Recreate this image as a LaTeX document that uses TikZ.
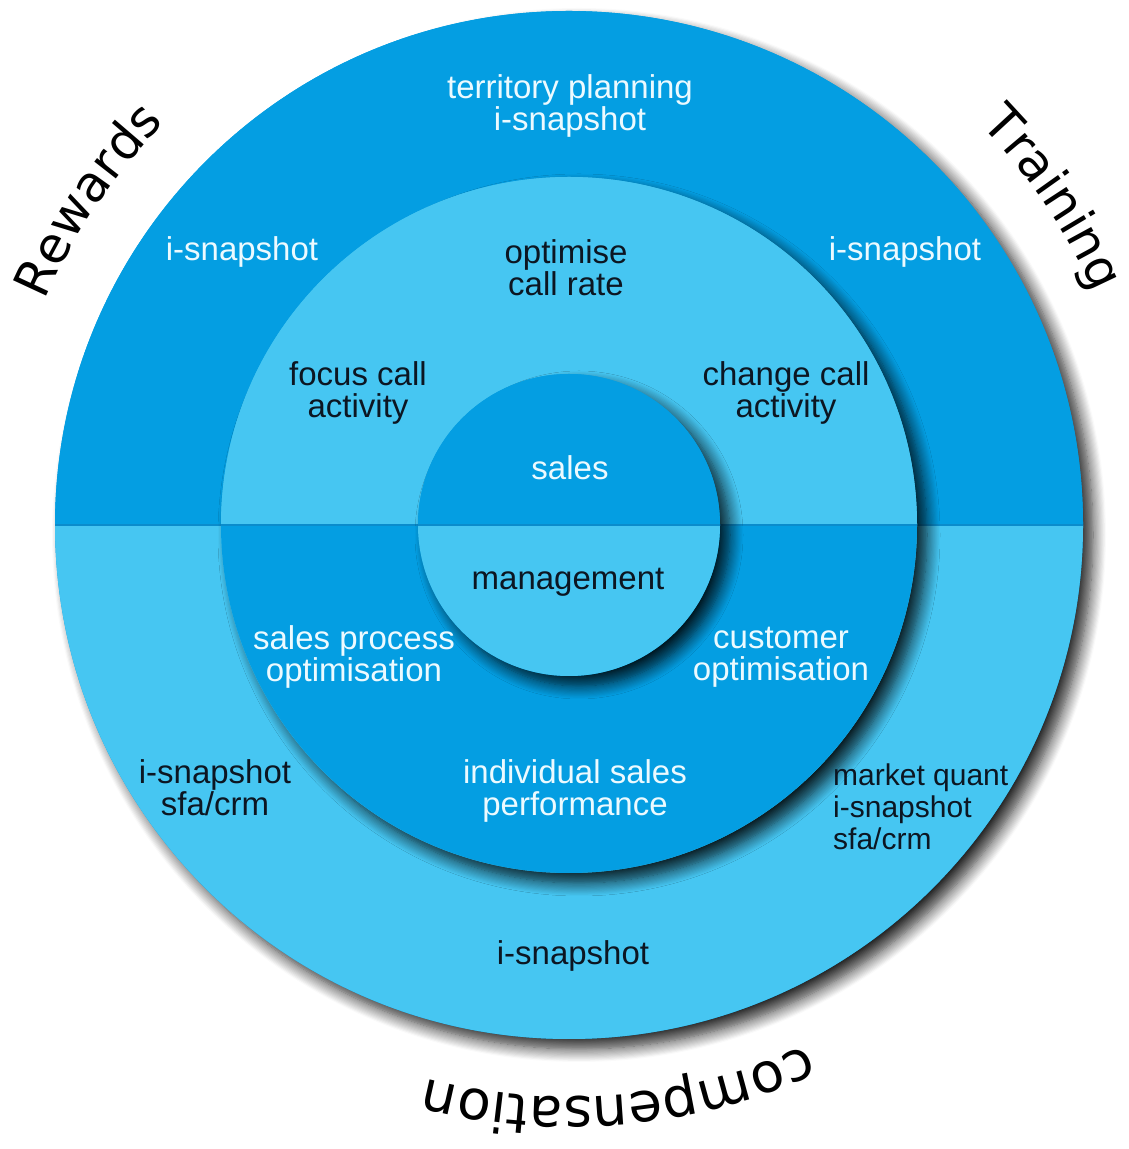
\documentclass[tikz,border=0pt]{standalone}
\usepackage{fontspec}
\setmainfont{Liberation Sans}
\newfontfamily\ringfont{DejaVu Sans}
\usetikzlibrary{shadows.blur,decorations.text}
\definecolor{ringdark}{RGB}{4,158,226}
\definecolor{ringlight}{RGB}{70,198,242}
\definecolor{seam}{RGB}{10,140,204}
\definecolor{inkdark}{RGB}{12,22,34}
\definecolor{inklight}{RGB}{236,250,255}
\begin{document}
\begin{tikzpicture}[x=1pt,y=1pt,
  ringshadow/.style={blur shadow={shadow xshift=10pt,shadow yshift=-10pt,shadow blur radius=13pt,shadow blur steps=12,shadow opacity=85}},
  lbl/.style={align=center,inner sep=0pt,font=\fontsize{33}{32}\selectfont},
  ondark/.style={lbl,text=inklight},
  onlight/.style={lbl,text=inkdark},
  arcword/.style 2 args={decorate,decoration={text along path,text align=center,
      text={|\ringfont\fontsize{#1}{#1}\selectfont|#2}}}
]
\useasboundingbox (0,0) rectangle (1129,1149);
\coordinate (C) at (569,624);

% outer ring: dark upper half, light lower half
\fill[ringdark,ringshadow] (C) circle[radius=514];
\fill[ringdark] (C) ++(514,0) arc[start angle=0,end angle=180,radius=514] -- cycle;
\fill[ringlight] (C) ++(-514,0) arc[start angle=180,end angle=360,radius=514] -- cycle;
\draw[seam,line width=2.5pt] (C) ++(-514,0) -- ++(1028,0);

% middle ring: light upper half, dark lower half
\fill[ringlight,ringshadow] (C) circle[radius=348];
\fill[ringlight] (C) ++(348,0) arc[start angle=0,end angle=180,radius=348] -- cycle;
\fill[ringdark] (C) ++(-348,0) arc[start angle=180,end angle=360,radius=348] -- cycle;
\draw[seam,line width=2.5pt] (C) ++(-348,0) -- ++(696,0);

% core: dark upper half, light lower half
\fill[ringdark,ringshadow] (C) circle[radius=151];
\fill[ringdark] (C) ++(151,0) arc[start angle=0,end angle=180,radius=151] -- cycle;
\fill[ringlight] (C) ++(-151,0) arc[start angle=180,end angle=360,radius=151] -- cycle;
\draw[seam,line width=2.5pt] (C) ++(-151,0) -- ++(302,0);

% words around the rim, read clockwise
\path[arcword={50}{Rewards}] (C) ++(176:570) arc[start angle=176,end angle=116,radius=570];
\path[arcword={50}{Training}] (C) ++(64:574) arc[start angle=64,end angle=4,radius=574];
\path[arcword={55}{compensation}] (C) ++(-50:572) arc[start angle=-50,end angle=-120,radius=572];

% outer ring labels
\node[ondark] (territory) at (570,1043) {territory planning\\i-snapshot};
\node[ondark] (snapL) at (242,897) {i-snapshot};
\node[ondark] (snapR) at (905,897) {i-snapshot};
\node[onlight] (sfaL) at (215,361) {i-snapshot\\sfa/crm};
\node[onlight,anchor=west,align=left,font=\fontsize{30}{32}\selectfont] (quant) at (833,342) {market quant\\i-snapshot\\sfa/crm};
\node[onlight] (snapB) at (573,193) {i-snapshot};

% middle ring labels
\node[onlight] (callrate) at (566,881) {optimise\\call rate};
\node[onlight] (focus) at (358,756) {focus call\\activity};
\node[onlight] (change) at (786,756) {change call\\activity};
\node[ondark] (process) at (354,492) {sales process\\optimisation};
\node[ondark] (customer) at (781,492) {customer\\optimisation};
\node[ondark] (individual) at (575,358) {individual sales\\performance};

% core labels
\node[ondark] (sales) at (570,681) {sales};
\node[onlight] (management) at (568,567) {management};
\end{tikzpicture}
\end{document}
